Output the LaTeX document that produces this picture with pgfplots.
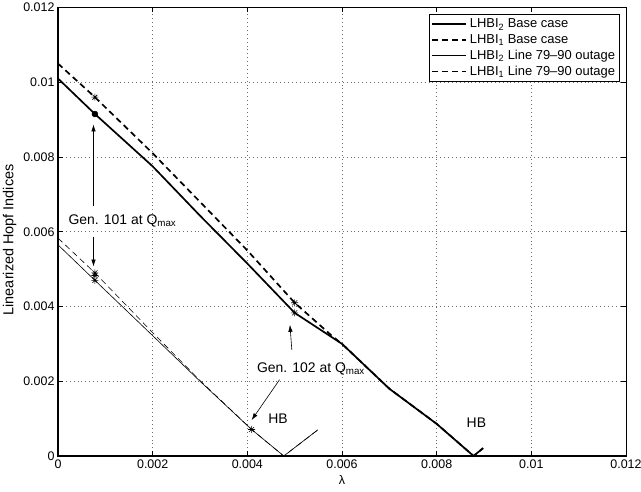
\documentclass[border=0pt]{standalone}
\usepackage{fontspec}
\setmainfont{Liberation Sans}
\usepackage{pgfplots}
\pgfplotsset{compat=1.18}
\usetikzlibrary{arrows.meta}
\newcommand{\fs}{\fontsize{12.5}{15}\selectfont}
\newcommand{\fl}{\fontsize{13}{15}\selectfont}
\newcommand{\fy}{\fontsize{14.5}{16}\selectfont}
\newcommand{\fa}{\fontsize{14}{16}\selectfont}
\pgfdeclareplotmark{mstar}{%
 \pgfpathmoveto{\pgfqpoint{-\pgfplotmarksize}{0pt}}\pgfpathlineto{\pgfqpoint{\pgfplotmarksize}{0pt}}%
 \pgfpathmoveto{\pgfqpoint{0pt}{-\pgfplotmarksize}}\pgfpathlineto{\pgfqpoint{0pt}{\pgfplotmarksize}}%
 \pgfpathmoveto{\pgfqpoint{-0.707\pgfplotmarksize}{-0.707\pgfplotmarksize}}\pgfpathlineto{\pgfqpoint{0.707\pgfplotmarksize}{0.707\pgfplotmarksize}}%
 \pgfpathmoveto{\pgfqpoint{-0.707\pgfplotmarksize}{0.707\pgfplotmarksize}}\pgfpathlineto{\pgfqpoint{0.707\pgfplotmarksize}{-0.707\pgfplotmarksize}}%
 \pgfusepathqstroke}
\begin{document}
\begin{tikzpicture}
\begin{axis}[
  scale only axis, width=568bp, height=448.5bp,
  xmin=0, xmax=0.012, ymin=0, ymax=0.012,
  xtick={0,0.002,0.004,0.006,0.008,0.01,0.012},
  xticklabels={0,0.002,0.004,0.006,0.008,0.01,0.012},
  ytick={0,0.002,0.004,0.006,0.008,0.01,0.012},
  yticklabels={0,0.002,0.004,0.006,0.008,0.01,0.012},
  scaled ticks=false,
  /pgf/number format/assume math mode=true,
  tick label style={font=\fs},
  xlabel style={font=\fs},
  ylabel style={font=\fy, at={(ticklabel cs:0.482)}},
  tick align=inside, xtick pos=both, ytick pos=both,
  major tick length=5bp,
  every tick/.style={black, line width=0.5bp},
  axis line style={line width=0.6bp},
  grid=major,
  major grid style={dash pattern=on 0.9bp off 3bp, gray!85!black, line width=0.6bp},
  xlabel={λ}, ylabel={Linearized Hopf Indices},
  legend style={at={(0.9894,0.9855)}, anchor=north east, draw=black, line width=0.6bp,
    font=\fl, inner sep=2bp, row sep=0bp, nodes={inner sep=2.6bp}},
  legend cell align=left,
  legend image code/.code={\draw[#1] (0bp,0bp) -- (34bp,0bp);},
  clip=false,
]
\addlegendimage{black, solid, line width=1.7bp}
\addlegendentry{LHBI\textsubscript{2} Base case}
\addlegendimage{black, line width=1.7bp, dash pattern=on 6bp off 4bp}
\addlegendentry{LHBI\textsubscript{1} Base case}
\addlegendimage{black, solid, line width=0.6bp}
\addlegendentry{LHBI\textsubscript{2} Line 79--90 outage}
\addlegendimage{black, line width=0.6bp, dash pattern=on 6bp off 4bp}
\addlegendentry{LHBI\textsubscript{1} Line 79--90 outage}
% LHBI2 base case
\addplot[black, solid, line width=1.7bp, forget plot] coordinates {
 (0,0.0101) (0.00078,0.00915) (0.002,0.00775) (0.003,0.00643) (0.004,0.00515)
 (0.005,0.00383) (0.006,0.0030) (0.007,0.0018) (0.008,0.00086) (0.00878,0) (0.00898,0.00021)};
% LHBI1 base case
\addplot[black, line width=1.7bp, dash pattern=on 6bp off 4bp, forget plot] coordinates {
 (0,0.0105) (0.00078,0.0096) (0.002,0.0081) (0.003,0.0068) (0.004,0.0055)
 (0.005,0.0041) (0.0058,0.0032) (0.006,0.0030) (0.007,0.0018) (0.008,0.00086) (0.00878,0) (0.00898,0.00021)};
% LHBI2 outage
\addplot[black, solid, line width=0.6bp, forget plot] coordinates {
 (0,0.00565) (0.00078,0.0047) (0.002,0.00322) (0.003,0.0020) (0.00409,0.00071) (0.00477,0) (0.00549,0.0007)};
% LHBI1 outage
\addplot[black, line width=0.6bp, dash pattern=on 6bp off 4bp, forget plot] coordinates {
 (0,0.00583) (0.00078,0.0049) (0.002,0.0033) (0.003,0.00202) (0.00409,0.00071) (0.00477,0) (0.00549,0.0007)};
% markers
\addplot[black, only marks, mark=mstar, mark size=3.5bp, line width=0.6bp, forget plot] coordinates {
 (0.00078,0.0096) (0.005,0.0041) (0.005,0.00383)
 (0.00078,0.0049) (0.00078,0.00483) (0.00078,0.0047) (0.00409,0.00071)};
\addplot[black, only marks, mark=*, mark size=3bp, forget plot] coordinates {(0.00078,0.00915)};
% frame emphasis (bottom and left thicker)
\draw[line width=1.5bp] (rel axis cs:0,1) -- (rel axis cs:0,0) -- (rel axis cs:1,0);
% annotations
\tikzset{ann/.style={-{Latex[length=7bp,width=4.5bp]}, line width=0.6bp}}
\draw[ann] (axis cs:0.00075,0.0067) -- (axis cs:0.00075,0.00887);
\draw[ann] (axis cs:0.00075,0.00587) -- (axis cs:0.00075,0.00507);
\node[anchor=base west, inner sep=0, font=\fa] at (axis cs:0.000218,0.00619) {Gen. 101 at Q\textsubscript{max}};
\draw[ann] (axis cs:0.00494,0.00284) -- (axis cs:0.0049,0.00351);
\node[anchor=base west, inner sep=0, font=\fa] at (axis cs:0.0042,0.00223) {Gen. 102 at Q\textsubscript{max}};
\draw[ann] (axis cs:0.00468,0.00204) -- (axis cs:0.00409,0.00096);
\node[anchor=base west, inner sep=0, font=\fa] at (axis cs:0.00444,0.00086) {HB};
\node[anchor=base west, inner sep=0, font=\fa] at (axis cs:0.00863,0.00075) {HB};
\end{axis}
\pgfresetboundingbox
\path[use as bounding box] ([xshift=-58bp,yshift=-36bp]current axis.south west) rectangle ([xshift=15bp,yshift=7.5bp]current axis.north east);
\end{tikzpicture}
\end{document}
